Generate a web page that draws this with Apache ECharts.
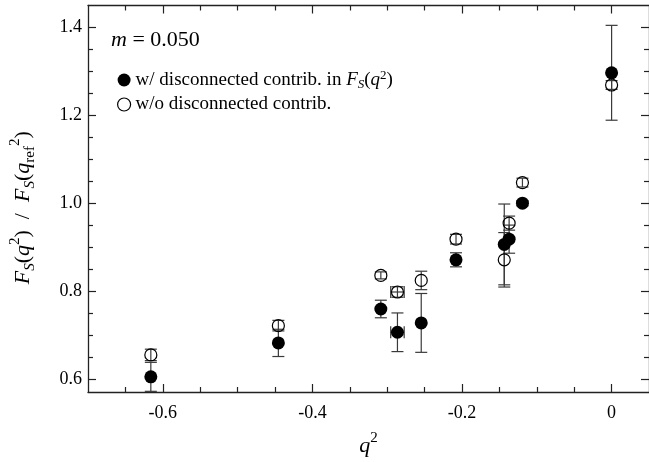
<!DOCTYPE html>
<html>
<head>
<meta charset="utf-8">
<script src="https://cdn.jsdelivr.net/npm/echarts@6/dist/echarts.min.js"></script>
<style>
  html, body { margin: 0; padding: 0; background: #fff; }
  #main { width: 649px; height: 462px; }
</style>
</head>
<body>
<div id="main"></div>
<script>
// q^2 values and the two data sets
var q2 = [-0.616, -0.4455, -0.3085, -0.2863, -0.2545, -0.208, -0.1435, -0.137, -0.1192, 0];
var q2Err = [0, 0, 0, 0.009, 0, 0, 0, 0, 0, 0];

var withDisc = [0.6045, 0.6818, 0.759, 0.706, 0.7273, 0.871, 0.906, 0.918, 1.0, 1.2968];
var withDiscErr = [0.033, 0.031, 0.02, 0.044, 0.067, 0.016, 0.092, 0.032, 0.006, 0.108];

var withoutDisc = [0.6545, 0.7211, 0.8355, 0.7977, 0.824, 0.918, 0.871, 0.9545, 1.0468, 1.269];
var withoutDiscErr = [0.013, 0.012, 0.008, 0.012, 0.021, 0.011, 0.062, 0.016, 0.010, 0.010];

var xMajor = [-0.6, -0.4, -0.2, 0];
var xMajorLabels = ['-0.6', '-0.4', '-0.2', '0'];
var xMinor = [-0.65, -0.55, -0.5, -0.45, -0.35, -0.3, -0.25, -0.15, -0.1, -0.05];
var yMajor = [0.6, 0.8, 1.0, 1.2, 1.4];
var yMajorLabels = ['0.6', '0.8', '1.0', '1.2', '1.4'];
var yMinor = [0.65, 0.7, 0.75, 0.85, 0.9, 0.95, 1.05, 1.1, 1.15, 1.25, 1.3, 1.35];

var FONT = 'Liberation Serif';
var AXIS_COLOR = '#222';

var chart = echarts.init(document.getElementById('main'));

var richText = {
  n: { fontFamily: FONT, fontSize: 19, color: '#000', lineHeight: 22 },
  i: { fontFamily: FONT, fontSize: 19, fontStyle: 'italic', color: '#000', lineHeight: 22 },
  sub: { fontFamily: FONT, fontSize: 13, fontStyle: 'italic', color: '#000', verticalAlign: 'bottom', lineHeight: 22 },
  sup: { fontFamily: FONT, fontSize: 13, color: '#000', verticalAlign: 'top', lineHeight: 22 }
};

var richAxis = {
  n: { fontFamily: FONT, fontSize: 22, color: '#000', lineHeight: 30 },
  i: { fontFamily: FONT, fontSize: 22, fontStyle: 'italic', color: '#000', lineHeight: 30 },
  sub: { fontFamily: FONT, fontSize: 15, fontStyle: 'italic', color: '#000', verticalAlign: 'bottom', lineHeight: 30 },
  subn: { fontFamily: FONT, fontSize: 15, color: '#000', verticalAlign: 'bottom', lineHeight: 30 },
  sup: { fontFamily: FONT, fontSize: 15, color: '#000', verticalAlign: 'top', lineHeight: 30 }
};

var legendNames = {
  'with': '{n|w/ disconnected contrib. in }{i|F}{sub|S}{n|(}{i|q}{sup|2}{n|)}',
  'without': '{n|w/o disconnected contrib.}'
};

function makeErrorBars(vals, errs) {
  var data = q2.map(function (x, i) { return [x, vals[i], errs[i], q2Err[i]]; });
  return {
    type: 'custom',
    xAxisIndex: 0,
    yAxisIndex: 0,
    z: 1,
    silent: true,
    data: data,
    renderItem: function (params, api) {
      var x = api.value(0), y = api.value(1), e = api.value(2), ex = api.value(3);
      var top = api.coord([x, y + e]);
      var bot = api.coord([x, y - e]);
      var cap = 6;
      var style = { stroke: '#3a3a3a', lineWidth: 1.2 };
      var children = [
        { type: 'line', shape: { x1: top[0], y1: top[1], x2: bot[0], y2: bot[1] }, style: style },
        { type: 'line', shape: { x1: top[0] - cap, y1: top[1], x2: top[0] + cap, y2: top[1] }, style: style },
        { type: 'line', shape: { x1: bot[0] - cap, y1: bot[1], x2: bot[0] + cap, y2: bot[1] }, style: style }
      ];
      if (ex > 0) {
        var l = api.coord([x - ex, y]);
        var r = api.coord([x + ex, y]);
        children.push(
          { type: 'line', shape: { x1: l[0], y1: l[1], x2: r[0], y2: r[1] }, style: style },
          { type: 'line', shape: { x1: l[0], y1: l[1] - cap, x2: l[0], y2: l[1] + cap }, style: style },
          { type: 'line', shape: { x1: r[0], y1: r[1] - cap, x2: r[0], y2: r[1] + cap }, style: style }
        );
      }
      return { type: 'group', children: children };
    }
  };
}

function xAx(pos, values, len, showLine, showLabel) {
  var ax = {
    type: 'value',
    position: pos,
    min: -0.7,
    max: 0.05,
    splitLine: { show: false },
    axisLine: { show: showLine, onZero: false, lineStyle: { color: AXIS_COLOR, width: 1.3 } },
    axisTick: { show: true, inside: true, length: len, customValues: values, lineStyle: { color: AXIS_COLOR, width: 1.2 } },
    axisLabel: { show: false }
  };
  if (showLabel) {
    ax.axisLabel = {
      show: true,
      customValues: values,
      margin: 12,
      fontFamily: FONT,
      fontSize: 18,
      color: '#000',
      formatter: function (v) {
        var idx = xMajor.findIndex(function (m) { return Math.abs(m - v) < 1e-9; });
        return idx >= 0 ? xMajorLabels[idx] : '';
      }
    };
    ax.name = '{i|q}{sup|2}';
    ax.nameLocation = 'middle';
    ax.nameGap = 39;
    ax.nameTextStyle = { rich: richAxis };
  }
  return ax;
}

function yAx(pos, values, len, showLine, showLabel) {
  var ax = {
    type: 'value',
    position: pos,
    min: 0.57,
    max: 1.45,
    splitLine: { show: false },
    axisLine: { show: showLine, onZero: false, lineStyle: { color: AXIS_COLOR, width: 1.3 } },
    axisTick: { show: true, inside: true, length: len, customValues: values, lineStyle: { color: AXIS_COLOR, width: 1.2 } },
    axisLabel: { show: false }
  };
  if (showLabel) {
    ax.axisLabel = {
      show: true,
      customValues: values,
      margin: 6,
      fontFamily: FONT,
      fontSize: 18,
      color: '#000',
      formatter: function (v) {
        var idx = yMajor.findIndex(function (m) { return Math.abs(m - v) < 1e-9; });
        return idx >= 0 ? yMajorLabels[idx] : '';
      }
    };
    ax.name = '{i|F}{sub|S}{n|(}{i|q}{sup|2}{n|)  /  }{i|F}{sub|S}{n|(}{i|q}{subn|ref}{sup|2}{n|)}';
    ax.nameLocation = 'middle';
    ax.nameRotate = 90;
    ax.nameGap = 50;
    ax.nameTextStyle = { rich: richAxis, padding: [0, 0, 0, -18] };
  }
  return ax;
}

var option = {
  animation: false,
  backgroundColor: '#fff',
  title: {
    text: '{i|m}{n| = 0.050}',
    left: 106,
    top: 24,
    textStyle: {
      fontWeight: 'normal',
      rich: {
        n: { fontFamily: FONT, fontSize: 22, fontWeight: 'normal', color: '#000' },
        i: { fontFamily: FONT, fontSize: 22, fontWeight: 'normal', fontStyle: 'italic', color: '#000' }
      }
    }
  },
  legend: {
    orient: 'vertical',
    left: 112,
    top: 64,
    itemGap: 4,
    itemWidth: 13,
    itemHeight: 13,
    data: [
      { name: 'with', icon: 'circle', itemStyle: { color: '#000', borderWidth: 0, opacity: 1 } },
      { name: 'without', icon: 'circle', itemStyle: { color: '#fff', borderColor: '#000', borderWidth: 1.2, opacity: 1 } }
    ],
    formatter: function (name) { return legendNames[name]; },
    textStyle: { rich: richText }
  },
  grid: { left: 88, top: 5.5, width: 565.5, height: 387.5, containLabel: false },
  xAxis: [
    xAx('bottom', xMajor, 8, true, true),
    xAx('bottom', xMinor, 5, false, false),
    xAx('top', xMajor, 8, true, false),
    xAx('top', xMinor, 5, false, false)
  ],
  yAxis: [
    yAx('left', yMajor, 8, true, true),
    yAx('left', yMinor, 5, false, false),
    yAx('right', yMajor, 8, true, false),
    yAx('right', yMinor, 5, false, false)
  ],
  series: [
    makeErrorBars(withDisc, withDiscErr),
    makeErrorBars(withoutDisc, withoutDiscErr),
    {
      name: 'with',
      type: 'scatter',
      xAxisIndex: 0,
      yAxisIndex: 0,
      z: 3,
      symbol: 'circle',
      symbolSize: 13,
      itemStyle: { color: '#000', opacity: 1 },
      data: q2.map(function (x, i) { return [x, withDisc[i]]; })
    },
    {
      name: 'without',
      type: 'scatter',
      xAxisIndex: 0,
      yAxisIndex: 0,
      z: 4,
      symbol: 'circle',
      symbolSize: 12,
      itemStyle: { color: 'rgba(0,0,0,0)', borderColor: '#000', borderWidth: 1.2, opacity: 1 },
      data: q2.map(function (x, i) { return [x, withoutDisc[i]]; })
    }
  ]
};

chart.setOption(option);
</script>
</body>
</html>
